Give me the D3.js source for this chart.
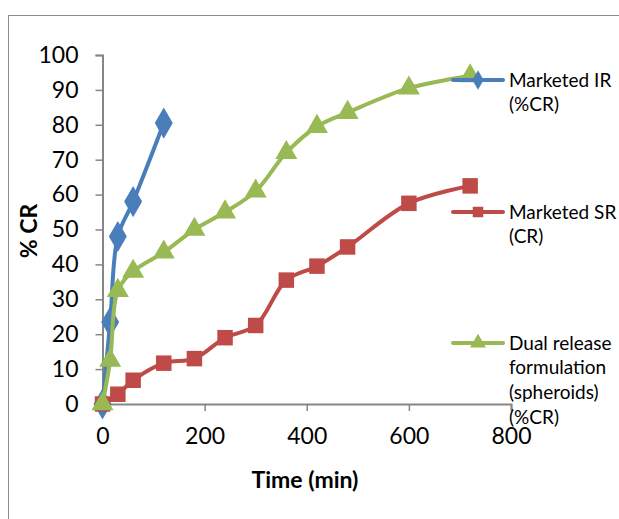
<!DOCTYPE html>
<html><head><meta charset="utf-8">
<script src="https://cdn.jsdelivr.net/npm/d3@7"></script>
<style>body{margin:0;background:#fff}svg{display:block}text{font-family:Lato,"Open Sans",sans-serif}</style>
</head><body>
<svg id="c" width="619" height="519"></svg>
<script>
const timeIR = [0, 15, 30, 60, 120];
const valIR = [0, 23.5, 48, 58, 80.5];
const timeSR = [0, 30, 60, 120, 180, 240, 300, 360, 420, 480, 600, 720];
const valSR = [0, 2.8, 6.8, 11.7, 13, 19, 22.5, 35.5, 39.5, 45, 57.5, 62.5];
const timeDR = [0, 15, 30, 60, 120, 180, 240, 300, 360, 420, 480, 600, 720];
const valDR = [0, 12.5, 32.5, 38, 43.5, 50, 55, 61, 72, 79.5, 83.5, 90.5, 94];
const xTicks = [0, 200, 400, 600, 800];
const yTicks = [0, 10, 20, 30, 40, 50, 60, 70, 80, 90, 100];
const seriesNames = [["Marketed IR", "(%CR)"], ["Marketed SR", "(CR)"], ["Dual release", "formulation", "(spheroids)", "(%CR)"]];
const colors = ["#4A7EBB", "#BE4B48", "#98B954"];
const shapes = [d3.symbolDiamond, d3.symbolSquare, d3.symbolTriangle];

const svg = d3.select("#c");
svg.append("rect").attr("x", 8.5).attr("y", 15.5).attr("width", 700).attr("height", 600)
  .attr("fill", "none").attr("stroke", "#8c8c8c").attr("stroke-width", 1);

const x = d3.scaleLinear().domain([0, 800]).range([102.5, 511]);
const y = d3.scaleLinear().domain([0, 100]).range([404, 55]);

const gx = svg.append("g").attr("transform", `translate(0,${y(0)})`)
  .call(d3.axisBottom(x).tickValues(xTicks).tickSize(7).tickPadding(17));
const gy = svg.append("g").attr("transform", `translate(${x(0)},0)`)
  .call(d3.axisLeft(y).tickValues(yTicks).tickSize(7).tickPadding(17));
[gx, gy].forEach(g => {
  g.select(".domain").attr("stroke", "#868686").attr("stroke-width", 2);
  g.selectAll(".tick line").attr("stroke", "#868686").attr("stroke-width", 1.5);
  g.selectAll(".tick text").attr("fill", "#000").style("font-size", "23px").style("font-family", "Lato");
});

svg.append("text").attr("x", 305).attr("y", 488).attr("text-anchor", "middle")
  .style("font-size", "23px").style("font-weight", "bold").text("Time (min)");
svg.append("text").attr("transform", "translate(37,231) rotate(-90)").attr("text-anchor", "middle")
  .style("font-size", "23px").style("font-weight", "bold").text("% CR");

const data = [
  timeIR.map((t, i) => [t, valIR[i]]),
  timeSR.map((t, i) => [t, valSR[i]]),
  timeDR.map((t, i) => [t, valDR[i]])
];
const line = d3.line().x(d => x(d[0])).y(d => y(d[1])).curve(d3.curveCatmullRom.alpha(0.5));
const symSize = [280, 240, 210];
data.forEach((pts, k) => {
  const g = svg.append("g");
  g.append("path").attr("d", line(pts)).attr("fill", "none").attr("stroke", colors[k])
    .attr("stroke-width", 4).attr("stroke-linejoin", "round").attr("stroke-linecap", "round");
  g.selectAll("path.m").data(pts).enter().append("path").attr("class", "m")
    .attr("transform", d => `translate(${x(d[0])},${y(d[1])})`)
    .attr("d", d3.symbol().type(shapes[k]).size(symSize[k])).attr("fill", colors[k]);
});

const legY = [80, 212, 343];
seriesNames.forEach((lines, k) => {
  const g = svg.append("g");
  g.append("line").attr("x1", 453).attr("x2", 503).attr("y1", legY[k]).attr("y2", legY[k])
    .attr("stroke", colors[k]).attr("stroke-width", 4).attr("stroke-linecap", "round");
  g.append("path").attr("transform", `translate(478,${legY[k]})`)
    .attr("d", d3.symbol().type(shapes[k]).size(110)).attr("fill", colors[k]);
  lines.forEach((s, j) => {
    g.append("text").attr("x", 509).attr("y", legY[k] + j * 24.7).attr("dy", "0.35em")
      .style("font-size", "19px").attr("fill", "#000").text(s);
  });
});
</script>
</body></html>
